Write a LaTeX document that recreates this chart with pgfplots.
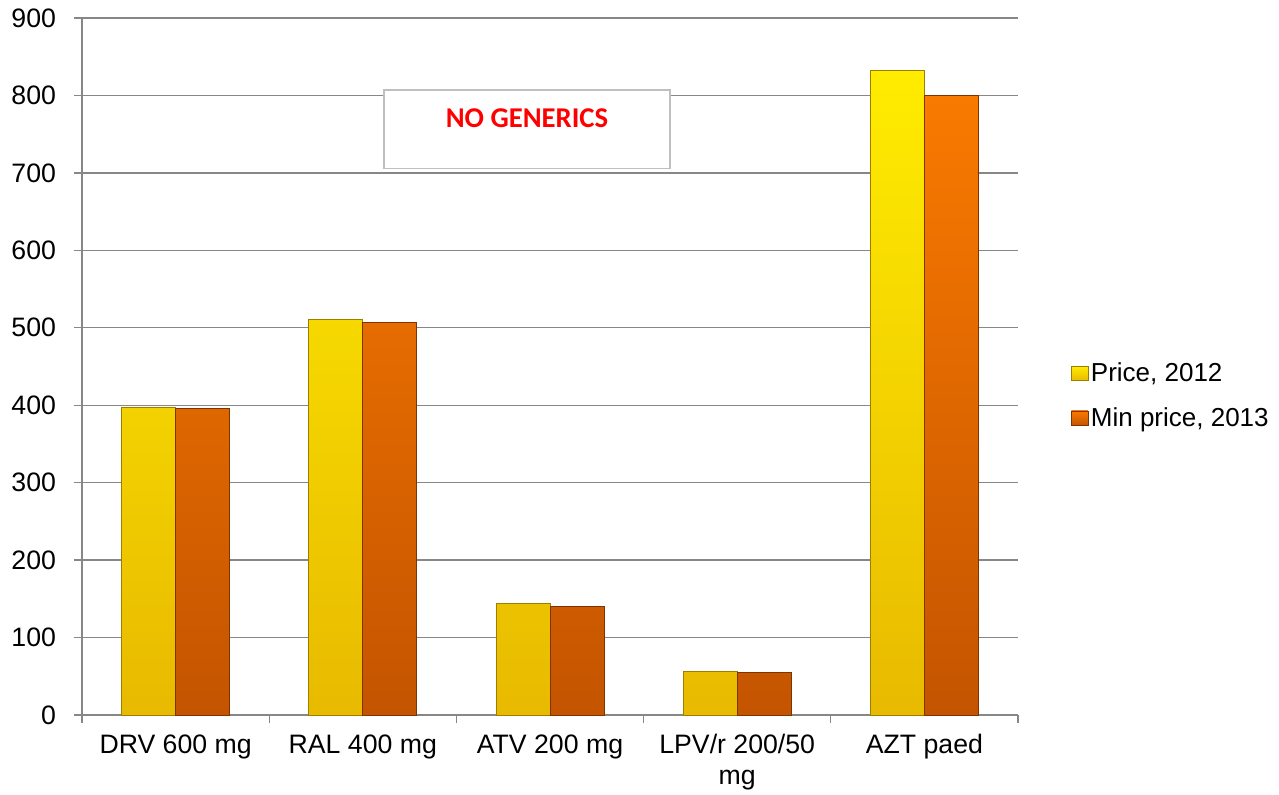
\documentclass[border=0pt]{standalone}
\usepackage{pgfplots}
\pgfplotsset{compat=1.18}
\usepackage{fontspec}
\setmainfont{Liberation Sans}
\newfontfamily\carlito{Carlito}
\definecolor{gridgray}{HTML}{878787}
\definecolor{yelTop}{HTML}{FFEC00}
\definecolor{yelBot}{HTML}{E8BA00}
\definecolor{yelDraw}{HTML}{9C7E00}
\definecolor{orgTop}{HTML}{F97A00}
\definecolor{orgBot}{HTML}{C45400}
\definecolor{orgDraw}{HTML}{7E3400}
\begin{document}
\begin{tikzpicture}
\useasboundingbox (0,0) rectangle (959.25pt,595.5pt);
\begin{axis}[
  at={(61.5pt,59.25pt)}, anchor=south west,
  scale only axis, width=702pt, height=522.75pt,
  xmin=-0.5, xmax=4.5, ymin=0, ymax=900,
  ytick={0,100,...,900},
  xtick={0,1,2,3,4},
  xticklabels={DRV 600 mg, RAL 400 mg, ATV 200 mg, {LPV/r 200/50\\mg}, AZT paed},
  minor xtick={-0.5,0.5,1.5,2.5,3.5,4.5},
  major x tick style={draw=none},
  axis x line*=bottom, axis y line*=left,
  axis line style={draw=gridgray, line width=1pt, -},
  tick style={draw=gridgray, line width=1pt},
  tick align=outside,
  major tick length=6pt, minor tick length=6pt,
  ymajorgrids, grid style={draw=gridgray, line width=1pt},
  ticklabel style={font=\fontsize{20}{23}\selectfont},
  xticklabel style={align=center, yshift=-5pt},
  yticklabel style={xshift=-10pt},
  /pgf/number format/assume math mode=true,
  ybar=0pt, bar width=40.5pt,
  legend style={at={(1.052,0.458)}, anchor=west, draw=none, fill=none,
    font=\fontsize{19.5}{23}\selectfont, row sep=14pt,
    /tikz/every even column/.append style={column sep=2pt}},
  legend cell align=left,
  legend image code/.code={\draw[#1] (0pt,-5.5pt) rectangle (12.5pt,5.5pt);},
]
\addplot[top color=yelTop, bottom color=yelBot, draw=yelDraw, line width=0.5pt]
  coordinates {(0,397) (1,511) (2,144) (3,56) (4,832)};
\addlegendentry{Price, 2012}
\addplot[top color=orgTop, bottom color=orgBot, draw=orgDraw, line width=0.5pt]
  coordinates {(0,396) (1,507) (2,140) (3,55) (4,800)};
\addlegendentry{Min price, 2013}
\draw[draw=black!25, line width=1pt, fill=white] (axis cs:1.113,807) rectangle (axis cs:2.641,706);
\node[text=red, font=\carlito\bfseries\fontsize{21.5}{25}\selectfont] at (axis cs:1.877,771) {NO GENERICS};
\end{axis}
\end{tikzpicture}
\end{document}
